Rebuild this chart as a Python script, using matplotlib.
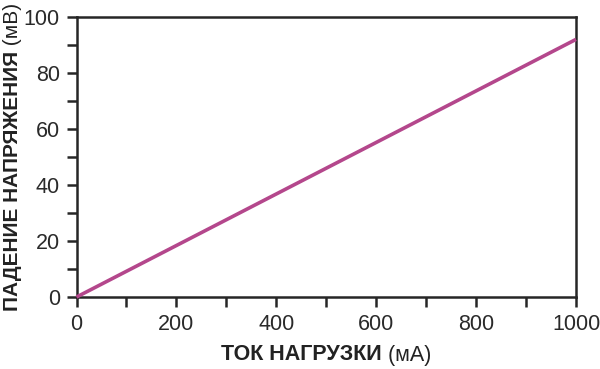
import matplotlib
matplotlib.use("Agg")
import matplotlib.pyplot as plt
from matplotlib.ticker import MultipleLocator

plt.rcParams['font.family'] = ['Liberation Sans', 'DejaVu Sans']

# Data
current_mA = [0, 1000]
drop_mV = [0, 92]

x_ticks = [0, 200, 400, 600, 800, 1000]
y_ticks = [0, 20, 40, 60, 80, 100]

xlabel_bold = "ТОК НАГРУЗКИ"
xlabel_unit = " (мА)"
ylabel_bold = "ПАДЕНИЕ НАПРЯЖЕНИЯ"
ylabel_unit = " (мВ)"

fig = plt.figure(figsize=(6, 3.69), dpi=100)
ax = fig.add_axes([0.1275, 0.195, 0.8325, 0.759])

ax.plot(current_mA, drop_mV, color='#b4478c', lw=2.6, solid_capstyle='butt', clip_on=False, zorder=3)

ax.set_xlim(0, 1000)
ax.set_ylim(0, 100)
ax.set_xticks(x_ticks)
ax.set_yticks(y_ticks)
ax.xaxis.set_minor_locator(MultipleLocator(100))
ax.yaxis.set_minor_locator(MultipleLocator(10))

spine_c = '#262626'
for s in ax.spines.values():
    s.set_color(spine_c)
    s.set_linewidth(1.8)

ax.tick_params(which='both', direction='out', length=7, width=1.8, color=spine_c,
               labelsize=15.5, labelcolor='#2a2a2a', pad=5)
ax.tick_params(which='both', top=False, right=False)

fig.canvas.draw()
renderer = fig.canvas.get_renderer()

fs = 15.5
# X label: bold + regular, centered under axes
cx = (0.1275 + 0.96) / 2
ty = 1 - 355 / 369
tb = fig.text(0, ty, xlabel_bold, fontsize=fs, fontweight='bold', color='#222222', va='center', ha='left')
tu = fig.text(0, ty, xlabel_unit, fontsize=fs, color='#222222', va='center', ha='left')
wb = tb.get_window_extent(renderer).width / fig.bbox.width
wu = tu.get_window_extent(renderer).width / fig.bbox.width
x0 = cx - (wb + wu) / 2
tb.set_x(x0)
tu.set_x(x0 + wb)

# Y label: rotated, top near figure edge
fsy = 15
tx = 13 / 600
yb = fig.text(tx, 0, ylabel_bold, fontsize=fsy, fontweight='bold', color='#222222', rotation=90,
              va='bottom', ha='center')
yu = fig.text(tx, 0, ylabel_unit, fontsize=fsy, color='#222222', rotation=90,
              va='bottom', ha='center')
hb = yb.get_window_extent(renderer).height / fig.bbox.height
hu = yu.get_window_extent(renderer).height / fig.bbox.height
top = 1 - 3 / 369
y0 = top - (hb + hu)
yb.set_y(y0)
yu.set_y(y0 + hb)

fig.savefig('out.png', dpi=100)
